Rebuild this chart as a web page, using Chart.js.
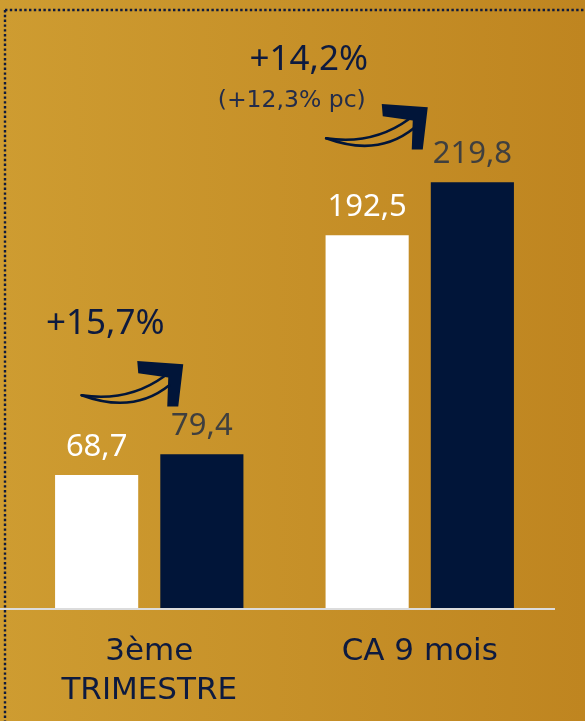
<!DOCTYPE html>
<html>
<head>
<meta charset="utf-8">
<script src="https://cdn.jsdelivr.net/npm/chart.js@4"></script>
<style>
  html, body { margin: 0; padding: 0; background: #c69026; }
  #wrap { width: 585px; height: 721px; position: relative; }
  canvas { display: block; }
</style>
</head>
<body>
<div id="wrap"><canvas id="c" width="585" height="721"></canvas></div>
<script>
// ---- data ----
const categories = [['3ème', 'TRIMESTRE'], 'CA 9 mois'];
const previousValues = [68.7, 192.5];   // white bars
const currentValues = [79.4, 219.8];    // navy bars
const changeLabels = ['+15,7%', '+14,2%'];
const changeNotes = ['', '(+12,3% pc)'];

// ---- styling ----
const NAVY = '#011539';
const TEXT_NAVY = '#0d1a3f';
const fmt = v => v.toFixed(1).replace('.', ',');

// annotation placement relative to group centre (x) and navy bar top (y)
const annotLayout = [
  { arrow: [34, -90], label: [-44, -120], note: null },
  { arrow: [8, -75], label: [-111, -112], note: [-128, -75] }
];

function drawArrow(ctx, x, y) {
  ctx.save();
  ctx.translate(x, y);
  ctx.fillStyle = NAVY;
  ctx.beginPath();
  ctx.moveTo(-46, -3.3);
  ctx.lineTo(0, 0);
  ctx.lineTo(-5, 42.3);
  ctx.lineTo(-16, 42.3);
  ctx.lineTo(-15, 13.3);
  ctx.lineTo(-45, 9);
  ctx.closePath();
  ctx.fill();
  ctx.strokeStyle = NAVY;
  ctx.lineWidth = 2.6;
  ctx.lineCap = 'round';
  ctx.beginPath();
  ctx.moveTo(-101.6, 31);
  ctx.quadraticCurveTo(-55, 38, -19, 12);
  ctx.stroke();
  ctx.beginPath();
  ctx.moveTo(-101.6, 31);
  ctx.quadraticCurveTo(-50, 50, -14, 21);
  ctx.stroke();
  ctx.restore();
}

const decor = {
  id: 'decor',
  beforeDraw(chart) {
    const { ctx, width, height } = chart;
    ctx.save();
    const g = ctx.createLinearGradient(0, 0, width, 0);
    g.addColorStop(0, '#ce9c31');
    g.addColorStop(1, '#bf8520');
    ctx.fillStyle = g;
    ctx.fillRect(0, 0, width, height);
    // dotted frame
    ctx.strokeStyle = '#0f1a3c';
    ctx.lineWidth = 2.4;
    ctx.setLineDash([2.4, 2.4]);
    ctx.beginPath();
    ctx.moveTo(5, 10);
    ctx.lineTo(width, 10);
    ctx.moveTo(5, 10);
    ctx.lineTo(5, height);
    ctx.stroke();
    ctx.restore();
  },
  afterDatasetsDraw(chart) {
    const { ctx, chartArea } = chart;
    const xs = chart.scales.x, ys = chart.scales.y;
    ctx.save();
    // baseline
    const y0 = ys.getPixelForValue(0);
    ctx.strokeStyle = '#dcdcdc';
    ctx.lineWidth = 2;
    ctx.beginPath();
    ctx.moveTo(0, y0 + 1);
    ctx.lineTo(chartArea.right, y0 + 1);
    ctx.stroke();
    // value labels
    ctx.font = '400 31px "Noto Sans"';
    ctx.textAlign = 'center';
    ctx.textBaseline = 'alphabetic';
    const colors = ['#ffffff', '#3f3f3f'];
    chart.data.datasets.forEach((ds, di) => {
      const meta = chart.getDatasetMeta(di);
      meta.data.forEach((bar, i) => {
        ctx.fillStyle = colors[di];
        ctx.fillText(fmt(ds.data[i]), bar.x, bar.y - 19);
      });
    });
    // change annotations
    categories.forEach((c, i) => {
      const cx = xs.getPixelForValue(i);
      const ty = ys.getPixelForValue(currentValues[i]);
      const L = annotLayout[i];
      drawArrow(ctx, cx + L.arrow[0], ty + L.arrow[1]);
      ctx.fillStyle = TEXT_NAVY;
      ctx.font = '400 35px "Noto Sans"';
      ctx.fillText(changeLabels[i], cx + L.label[0], ty + L.label[1]);
      if (L.note && changeNotes[i]) {
        ctx.font = '400 23.5px "DejaVu Sans"';
        ctx.fillStyle = '#232c4a';
        ctx.fillText(changeNotes[i], cx + L.note[0], ty + L.note[1]);
      }
    });
    ctx.restore();
  }
};

new Chart(document.getElementById('c'), {
  type: 'bar',
  data: {
    labels: categories,
    datasets: [
      { data: previousValues, backgroundColor: '#ffffff', borderWidth: 0,
        categoryPercentage: 0.778, barPercentage: 0.79 },
      { data: currentValues, backgroundColor: NAVY, borderWidth: 0,
        categoryPercentage: 0.778, barPercentage: 0.79 }
    ]
  },
  options: {
    responsive: false,
    animation: false,
    devicePixelRatio: 1,
    layout: { padding: { top: 27, left: 14, right: 30, bottom: 0 } },
    plugins: { legend: { display: false }, tooltip: { enabled: false } },
    scales: {
      x: {
        grid: { display: false, drawTicks: false },
        border: { display: false },
        ticks: {
          color: TEXT_NAVY,
          font: { family: '"DejaVu Sans"', size: 31, lineHeight: '39px' },
          padding: 24,
          maxRotation: 0,
          autoSkip: false
        },
        afterFit(scale) { scale.height = 113; }
      },
      y: {
        display: false,
        min: 0,
        max: 300
      }
    }
  },
  plugins: [decor]
});
</script>
</body>
</html>
